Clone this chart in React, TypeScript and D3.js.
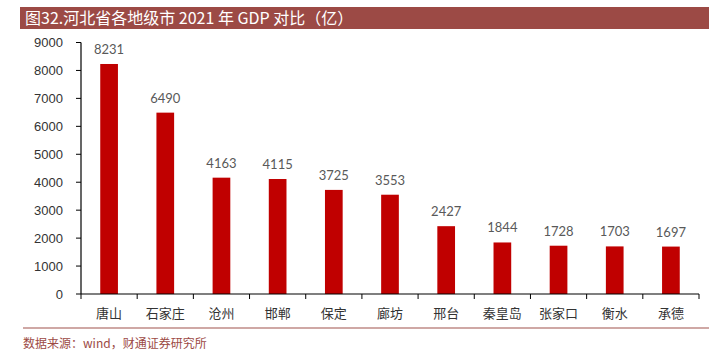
import React from "react";
import * as d3 from "d3";

const categories = ["唐山", "石家庄", "沧州", "邯郸", "保定", "廊坊", "邢台", "秦皇岛", "张家口", "衡水", "承德"];
const gdpValues = [8231, 6490, 4163, 4115, 3725, 3553, 2427, 1844, 1728, 1703, 1697];
const yTicks = [0, 1000, 2000, 3000, 4000, 5000, 6000, 7000, 8000, 9000];
const titleText = "图32.河北省各地级市 2021 年 GDP 对比（亿）";
const sourceText = "数据来源：wind，财通证券研究所";

const W = 709;
const H = 354;

export default function App() {
  const x = d3.scaleBand<string>().domain(categories).range([81, 699]).paddingInner(0).paddingOuter(0);
  const y = d3.scaleLinear().domain([0, 9000]).range([294, 42.5]);
  const barW = x.bandwidth() * 0.315;
  const boundaries = [...categories.map((c) => x(c) as number), 699];
  const numFont = "Lato, 'Open Sans', sans-serif";
  const cjk = "'Noto Sans CJK SC', sans-serif";

  return (
    <svg width={W} height={H} style={{ position: "absolute", left: 0, top: 0, display: "block", background: "#fff" }}>
      <rect x={20} y={7} width={W - 20} height={22} fill="#9c4a45" />
      <text x={25} y={24} fill="#fff" fontSize={16} fontFamily={cjk}>{titleText}</text>

      {yTicks.map((t) => (
        <g key={t}>
          <line x1={76} x2={81} y1={y(t)} y2={y(t)} stroke="#000" strokeWidth={1} />
          <text x={63} y={y(t)} dy="0.35em" textAnchor="end" fontSize={13} fill="#333" fontFamily="'Liberation Sans', Arial, sans-serif">{t}</text>
        </g>
      ))}
      <line x1={81} x2={81} y1={y(9000)} y2={y(0)} stroke="#000" strokeWidth={1.2} />

      {categories.map((c, i) => {
        const cx = (x(c) as number) + x.bandwidth() / 2;
        return (
          <g key={c}>
            <rect x={cx - barW / 2} y={y(gdpValues[i])} width={barW} height={y(0) - y(gdpValues[i])} fill="#c00000" />
            <text x={cx} y={y(gdpValues[i]) - 10} textAnchor="middle" fontSize={13} fill="#595959" fontFamily={numFont}>{gdpValues[i]}</text>
            <text x={cx} y={318} textAnchor="middle" fontSize={13} fill="#333" fontFamily={cjk}>{c}</text>
          </g>
        );
      })}

      <line x1={81} x2={699} y1={y(0)} y2={y(0)} stroke="#000" strokeWidth={1.2} />
      {boundaries.map((b, i) => (
        <line key={i} x1={b} x2={b} y1={y(0)} y2={y(0) + 5} stroke="#000" strokeWidth={1} />
      ))}

      <line x1={23} x2={W} y1={328} y2={328} stroke="#a0524d" strokeWidth={1.2} />
      <text x={23} y={348} fontSize={12} fill="#9c4a45" fontFamily={cjk}>{sourceText}</text>
    </svg>
  );
}
